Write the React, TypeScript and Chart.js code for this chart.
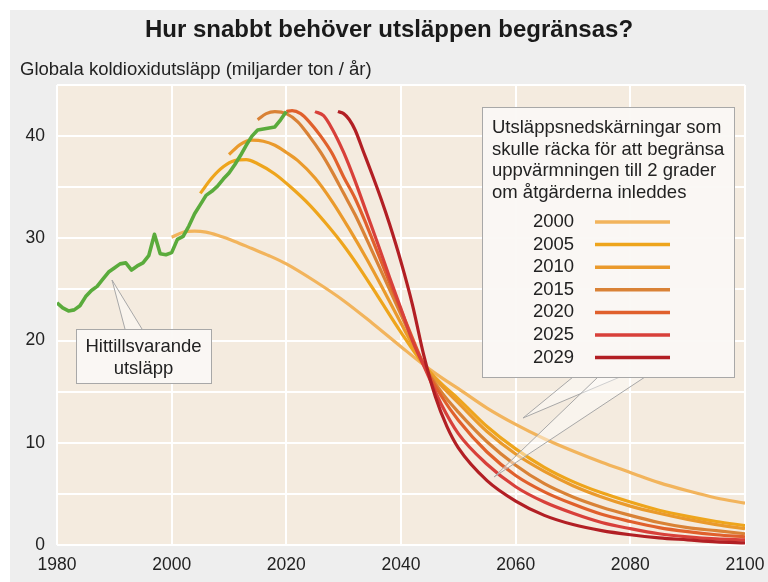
import React, { useEffect, useRef } from 'react';
import { Chart, registerables } from 'chart.js';

Chart.register(...registerables);

// ---------- DATA ----------
const histYears = [1980, 1981, 1982, 1983, 1984, 1985, 1986, 1987, 1988, 1989, 1990, 1991, 1992, 1993, 1994, 1995, 1996, 1997, 1998, 1999, 2000, 2001, 2002, 2003, 2004, 2005, 2006, 2007, 2008, 2009, 2010, 2011, 2012, 2013, 2014, 2015, 2016, 2017, 2018, 2019, 2020];
const histValues = [23.7, 23.2, 22.9, 23.0, 23.4, 24.3, 24.9, 25.3, 26.0, 26.7, 27.1, 27.5, 27.6, 26.9, 27.3, 27.6, 28.3, 30.4, 28.5, 28.4, 28.6, 29.9, 30.2, 31.2, 32.4, 33.3, 34.2, 34.6, 35.1, 35.8, 36.4, 37.2, 38.1, 39.1, 40.0, 40.6, 40.7, 40.8, 40.9, 41.6, 42.4];

const s2000Years = [2000, 2002, 2004, 2006, 2008, 2011, 2014, 2017, 2020, 2025, 2030, 2035, 2040, 2044, 2047, 2050, 2055, 2060, 2065, 2070, 2075, 2080, 2085, 2090, 2095, 2100];
const s2000Values = [30.1, 30.6, 30.7, 30.6, 30.3, 29.7, 29.0, 28.3, 27.5, 25.8, 23.9, 21.7, 19.4, 17.6, 16.4, 15.3, 13.4, 11.8, 10.4, 9.2, 8.1, 7.1, 6.1, 5.3, 4.6, 4.1];

const s2005Years = [2005, 2007, 2009, 2011, 2013, 2015, 2018, 2021, 2024, 2027, 2030, 2033, 2036, 2040, 2044, 2047, 2050, 2055, 2060, 2065, 2070, 2075, 2080, 2085, 2090, 2095, 2100];
const s2005Values = [34.4, 35.9, 37.0, 37.6, 37.7, 37.3, 36.3, 34.9, 33.3, 31.4, 29.3, 26.9, 24.3, 20.8, 17.6, 15.8, 14.3, 11.6, 9.4, 7.6, 6.2, 5.1, 4.2, 3.4, 2.8, 2.3, 1.9];

const s2010Years = [2010, 2012, 2014, 2016, 2018, 2020, 2022, 2025, 2028, 2031, 2034, 2037, 2040, 2044, 2047, 2050, 2055, 2060, 2065, 2070, 2075, 2080, 2085, 2090, 2095, 2100];
const s2010Values = [38.2, 39.2, 39.6, 39.5, 39.1, 38.4, 37.6, 35.9, 33.6, 30.9, 28.0, 24.9, 21.7, 17.6, 15.6, 13.9, 11.1, 8.9, 7.2, 5.8, 4.7, 3.8, 3.1, 2.5, 2.0, 1.6];

const s2015Years = [2015, 2016.5, 2018, 2020, 2022, 2024, 2026, 2028, 2030, 2032, 2035, 2038, 2041, 2044, 2047, 2050, 2055, 2060, 2065, 2070, 2075, 2080, 2085, 2090, 2095, 2100];
const s2015Values = [41.6, 42.2, 42.4, 42.2, 41.4, 40.0, 38.4, 36.5, 34.4, 32.3, 28.7, 25.0, 21.3, 17.6, 15.0, 13.0, 10.1, 7.8, 6.0, 4.7, 3.7, 2.9, 2.2, 1.7, 1.4, 1.1];

const s2020Years = [2020, 2021, 2022.5, 2024, 2026, 2028, 2030, 2032, 2034, 2036, 2038, 2041, 2044, 2047, 2050, 2055, 2060, 2065, 2070, 2075, 2080, 2085, 2090, 2095, 2100];
const s2020Values = [42.4, 42.5, 42.2, 41.4, 40.0, 38.3, 36.0, 33.9, 31.3, 28.5, 25.7, 21.6, 17.6, 14.6, 12.2, 9.1, 6.8, 5.2, 4.0, 3.0, 2.3, 1.7, 1.3, 1.0, 0.8];

const s2025Years = [2025, 2026.5, 2028, 2030, 2032, 2034, 2036, 2038, 2040, 2042, 2044, 2047, 2050, 2055, 2060, 2065, 2070, 2075, 2080, 2085, 2090, 2095, 2100];
const s2025Values = [42.4, 42.0, 40.7, 38.4, 35.6, 32.5, 29.4, 26.2, 23.1, 20.0, 17.5, 13.8, 10.9, 7.9, 5.7, 4.2, 3.1, 2.2, 1.6, 1.1, 0.8, 0.6, 0.5];

const s2029Years = [2029, 2030, 2031, 2032, 2033.5, 2035, 2036.5, 2038, 2040, 2042, 2044, 2046, 2048, 2050, 2055, 2060, 2065, 2070, 2075, 2080, 2085, 2090, 2095, 2100];
const s2029Values = [42.4, 42.2, 41.6, 40.6, 38.4, 36.2, 33.9, 31.4, 27.7, 23.5, 18.5, 14.5, 11.6, 9.5, 6.3, 4.3, 2.9, 2.0, 1.4, 1.0, 0.7, 0.5, 0.3, 0.2];

const scenarioLabels = ['2000', '2005', '2010', '2015', '2020', '2025', '2029'];
const scenarioColors = ['#f2b45c', '#eea51c', '#ea9a2c', '#d98236', '#e0602c', '#d8403a', '#b21f24'];
const histLabel = 'Hittillsvarande utsläpp';
const histColor = '#5aab3c';

const titleText = 'Hur snabbt behöver utsläppen begränsas?';
const subtitleText = 'Globala koldioxidutsläpp (miljarder ton / år)';
const legendTitle = ['Utsläppsnedskärningar som', 'skulle räcka för att begränsa', 'uppvärmningen till 2 grader', 'om åtgärderna inleddes'];
const histNote = ['Hittillsvarande', 'utsläpp'];

const FONT = '"Liberation Sans", Arial, Helvetica, sans-serif';
const W = 768;
const H = 582;

export default function App() {
  const ref = useRef<HTMLCanvasElement>(null);

  useEffect(() => {
    const canvas = ref.current;
    if (!canvas) return;
    const toPts = (xs: number[], ys: number[]) => xs.map((x, i) => ({ x, y: ys[i] }));
    const scenarioData = [
      toPts(s2000Years, s2000Values),
      toPts(s2005Years, s2005Values),
      toPts(s2010Years, s2010Values),
      toPts(s2015Years, s2015Values),
      toPts(s2020Years, s2020Values),
      toPts(s2025Years, s2025Values),
      toPts(s2029Years, s2029Values),
    ];
    const datasets: any[] = [
      {
        label: histLabel,
        data: toPts(histYears, histValues),
        borderColor: histColor,
        borderWidth: 3.6,
        pointRadius: 0,
        fill: false,
        tension: 0,
        borderJoinStyle: 'round',
      },
    ];
    for (let i = scenarioLabels.length - 1; i >= 0; i--) {
      datasets.push({
        label: scenarioLabels[i],
        data: scenarioData[i],
        borderColor: scenarioColors[i],
        borderWidth: 3.2,
        pointRadius: 0,
        fill: false,
        cubicInterpolationMode: 'monotone',
      });
    }

    const bgPlugin = {
      id: 'bgPlugin',
      beforeDraw(chart: any) {
        const c = chart.ctx;
        const a = chart.chartArea;
        c.save();
        c.fillStyle = '#ffffff';
        c.fillRect(0, 0, W, H);
        c.fillStyle = '#eeeeee';
        c.fillRect(10, 10, W - 10, H - 10);
        c.fillStyle = '#f4ebdf';
        c.fillRect(a.left, a.top, a.right - a.left, a.bottom - a.top);
        c.fillStyle = '#1a1a1a';
        c.font = `bold 24px ${FONT}`;
        c.textAlign = 'center';
        c.textBaseline = 'middle';
        c.fillText(titleText, 389, 30);
        c.fillStyle = '#222222';
        c.font = `18.5px ${FONT}`;
        c.textAlign = 'left';
        c.fillText(subtitleText, 20, 70);
        c.restore();
      },
    };

    const overlayPlugin = {
      id: 'overlayPlugin',
      afterDraw(chart: any) {
        const c = chart.ctx;
        c.save();
        // legend callout tails
        const boxL = 482, boxT = 107, boxR = 734, boxB = 377;
        const tails = [
          { b1: 573, b2: 620, tx: 523, ty: 418 },
          { b1: 598, b2: 645, tx: 494, ty: 477 },
        ];
        c.lineWidth = 1;
        c.strokeStyle = '#a8a8a8';
        tails.forEach((t) => {
          c.beginPath();
          c.moveTo(t.b1, boxB);
          c.lineTo(t.tx, t.ty);
          c.lineTo(t.b2, boxB);
          c.closePath();
          c.fillStyle = 'rgba(255,255,255,0.45)';
          c.fill();
          c.beginPath();
          c.moveTo(t.b1, boxB);
          c.lineTo(t.tx, t.ty);
          c.lineTo(t.b2, boxB);
          c.stroke();
        });
        c.fillStyle = 'rgba(250,248,244,0.95)';
        c.fillRect(boxL, boxT, boxR - boxL, boxB - boxT);
        c.strokeRect(boxL + 0.5, boxT + 0.5, boxR - boxL, boxB - boxT);

        c.fillStyle = '#222222';
        c.font = `18.5px ${FONT}`;
        c.textAlign = 'left';
        c.textBaseline = 'middle';
        legendTitle.forEach((line, i) => c.fillText(line, 492, 128 + i * 21.7));
        scenarioLabels.forEach((lab, i) => {
          const y = 222 + i * 22.6;
          c.fillStyle = '#222222';
          c.fillText(lab, 533, y);
          c.strokeStyle = scenarioColors[i];
          c.lineWidth = 3.5;
          c.beginPath();
          c.moveTo(595, y);
          c.lineTo(670, y);
          c.stroke();
        });

        // historic note callout
        const nL = 76, nT = 329, nR = 211, nB = 383;
        c.lineWidth = 1;
        c.strokeStyle = '#a8a8a8';
        c.beginPath();
        c.moveTo(125, nT);
        c.lineTo(112, 280);
        c.lineTo(142, nT);
        c.closePath();
        c.fillStyle = 'rgba(255,255,255,0.45)';
        c.fill();
        c.beginPath();
        c.moveTo(125, nT);
        c.lineTo(112, 280);
        c.lineTo(142, nT);
        c.stroke();
        c.fillStyle = 'rgba(250,248,244,0.95)';
        c.fillRect(nL, nT, nR - nL, nB - nT);
        c.strokeRect(nL + 0.5, nT + 0.5, nR - nL, nB - nT);
        c.fillStyle = '#222222';
        c.textAlign = 'center';
        c.fillText(histNote[0], 143.5, 347);
        c.fillText(histNote[1], 143.5, 368.5);
        c.restore();
      },
    };

    const chart = new Chart(canvas, {
      type: 'line',
      data: { datasets },
      plugins: [bgPlugin, overlayPlugin],
      options: {
        responsive: false,
        animation: false,
        devicePixelRatio: 1,
        layout: { padding: { left: 10, right: 23, top: 85, bottom: 0 } },
        plugins: { legend: { display: false }, tooltip: { enabled: false }, title: { display: false } },
        scales: {
          x: {
            type: 'linear',
            min: 1980,
            max: 2100,
            ticks: {
              stepSize: 20,
              color: '#222222',
              font: { family: FONT, size: 17.5 },
              padding: 10,
              maxRotation: 0,
              autoSkip: false,
              callback: (v: any) => String(v),
            },
            grid: { color: '#ffffff', lineWidth: 2, drawTicks: false },
            border: { display: false },
            afterFit: (s: any) => { s.height = 37; s.paddingLeft = 0; s.paddingRight = 0; },
          },
          y: {
            min: 0,
            max: 45,
            ticks: {
              stepSize: 5,
              color: '#222222',
              font: { family: FONT, size: 17.5 },
              padding: 12,
              autoSkip: false,
              callback: (v: any) => (Number(v) % 10 === 0 ? String(v) : ''),
            },
            grid: { color: '#ffffff', lineWidth: 2, drawTicks: false },
            border: { display: false },
            afterFit: (s: any) => { s.width = 47; s.paddingTop = 0; s.paddingBottom = 0; },
          },
        },
      } as any,
    });
    return () => chart.destroy();
  }, []);

  return (
    <div style={{ position: 'absolute', left: 0, top: 0, width: W, height: H }}>
      <canvas ref={ref} width={W} height={H} style={{ display: 'block', width: W, height: H }} />
    </div>
  );
}
